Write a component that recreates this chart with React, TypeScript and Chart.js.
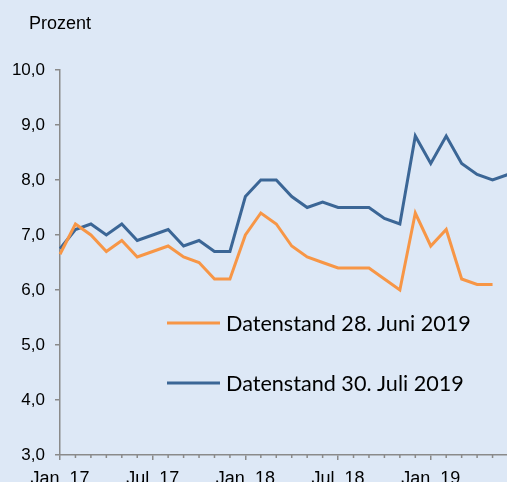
import React, { useEffect, useRef } from 'react';
import { Chart, registerables } from 'chart.js';
Chart.register(...registerables);

const months = [
  'Jan. 17', 'Feb. 17', 'Mär. 17', 'Apr. 17', 'Mai. 17', 'Jun. 17',
  'Jul. 17', 'Aug. 17', 'Sep. 17', 'Okt. 17', 'Nov. 17', 'Dez. 17',
  'Jan. 18', 'Feb. 18', 'Mär. 18', 'Apr. 18', 'Mai. 18', 'Jun. 18',
  'Jul. 18', 'Aug. 18', 'Sep. 18', 'Okt. 18', 'Nov. 18', 'Dez. 18',
  'Jan. 19', 'Feb. 19', 'Mär. 19', 'Apr. 19', 'Mai. 19', 'Jun. 19',
];

const juniValues = [
  6.65, 7.2, 7.0, 6.7, 6.9, 6.6, 6.7, 6.8, 6.6, 6.5, 6.2, 6.2,
  7.0, 7.4, 7.2, 6.8, 6.6, 6.5, 6.4, 6.4, 6.4, 6.2, 6.0, 7.4,
  6.8, 7.1, 6.2, 6.1, 6.1,
];

const juliValues = [
  6.75, 7.1, 7.2, 7.0, 7.2, 6.9, 7.0, 7.1, 6.8, 6.9, 6.7, 6.7,
  7.7, 8.0, 8.0, 7.7, 7.5, 7.6, 7.5, 7.5, 7.5, 7.3, 7.2, 8.8,
  8.3, 8.8, 8.3, 8.1, 8.0, 8.1,
];

const seriesLabels = ['Datenstand 28. Juni 2019', 'Datenstand 30. Juli 2019'];
const unitLabel = 'Prozent';
const yMin = 3;
const yMax = 10;

const BG = '#dde8f6';
const AXIS = '#8a8a8a';
const ORANGE = '#f79646';
const BLUE = '#3b6696';

export default function App() {
  const ref = useRef<HTMLCanvasElement>(null);

  useEffect(() => {
    const canvas = ref.current;
    if (!canvas) return;

    const bgPlugin = {
      id: 'bg',
      beforeDraw(chart: any) {
        const ctx = chart.ctx;
        ctx.save();
        ctx.fillStyle = BG;
        ctx.fillRect(0, 0, chart.width, chart.height);
        ctx.restore();
      },
    };

    const overlayPlugin = {
      id: 'overlay',
      afterDraw(chart: any) {
        const ctx = chart.ctx;
        const xs = chart.scales.x;
        const area = chart.chartArea;
        ctx.save();
        // unit label
        ctx.fillStyle = '#000';
        ctx.font = '18px "Liberation Sans", Arial, sans-serif';
        ctx.textAlign = 'left';
        ctx.textBaseline = 'alphabetic';
        ctx.fillText(unitLabel, 29, 29);

        // minor monthly ticks
        ctx.strokeStyle = AXIS;
        ctx.lineWidth = 1.5;
        for (let i = 0; i < months.length; i++) {
          if (i % 6 === 0) continue;
          const x = xs.getPixelForTick(i);
          ctx.beginPath();
          ctx.moveTo(x, area.bottom);
          ctx.lineTo(x, area.bottom + 3);
          ctx.stroke();
        }

        // legend inside plot
        const rows = [323, 383];
        chart.data.datasets.forEach((ds: any, k: number) => {
          const y = rows[k];
          ctx.strokeStyle = ds.borderColor;
          ctx.lineWidth = 3;
          ctx.beginPath();
          ctx.moveTo(167, y);
          ctx.lineTo(220, y);
          ctx.stroke();
          ctx.fillStyle = '#000';
          ctx.font = '21.6px Lato, "Open Sans", sans-serif';
          ctx.textBaseline = 'alphabetic';
          ctx.fillText(ds.label, 226, y + 7.5);
        });
        ctx.restore();
      },
    };

    const chart = new Chart(canvas, {
      type: 'line',
      data: {
        labels: months,
        datasets: [
          {
            label: seriesLabels[0],
            data: juniValues,
            borderColor: ORANGE,
            backgroundColor: ORANGE,
            borderWidth: 3,
            pointRadius: 0,
            tension: 0,
            fill: false,
          },
          {
            label: seriesLabels[1],
            data: juliValues,
            borderColor: BLUE,
            backgroundColor: BLUE,
            borderWidth: 3,
            pointRadius: 0,
            tension: 0,
            fill: false,
          },
        ],
      },
      options: {
        responsive: false,
        animation: false,
        devicePixelRatio: 1,
        layout: { padding: { top: 70, left: 0, right: 12, bottom: 0 } },
        plugins: {
          legend: { display: false },
          tooltip: { enabled: false },
          title: { display: false },
        },
        scales: {
          x: {
            type: 'category',
            offset: false,
            grid: {
              display: true,
              drawOnChartArea: false,
              drawTicks: true,
              tickLength: 5,
              lineWidth: 1.5,
              color: (c: any) => (c.index % 6 === 0 ? AXIS : 'rgba(0,0,0,0)'),
            },
            border: { display: true, color: AXIS, width: 1.5 },
            ticks: {
              autoSkip: false,
              maxRotation: 0,
              minRotation: 0,
              padding: 8,
              color: '#000',
              font: { family: '"Liberation Sans", Arial, sans-serif', size: 18 },
              callback: (_v: any, i: number) => (i % 6 === 0 ? months[i] : ''),
            },
            afterFit: (s: any) => {
              s.height = 27;
            },
          },
          y: {
            min: yMin,
            max: yMax,
            grid: {
              display: true,
              drawOnChartArea: false,
              drawTicks: true,
              tickLength: 5,
              lineWidth: 1.5,
              color: AXIS,
            },
            border: { display: true, color: AXIS, width: 1.5 },
            ticks: {
              stepSize: 1,
              padding: 10,
              color: '#000',
              font: { family: '"Liberation Sans", Arial, sans-serif', size: 17 },
              callback: (v: any) => Number(v).toFixed(1).replace('.', ','),
            },
            afterFit: (s: any) => {
              s.width = 60;
            },
          },
        },
      },
      plugins: [bgPlugin, overlayPlugin],
    } as any);

    return () => chart.destroy();
  }, []);

  return (
    <div
      style={{
        position: 'fixed',
        left: 0,
        top: 0,
        width: 507,
        height: 482,
        overflow: 'hidden',
        background: BG,
      }}
    >
      <canvas ref={ref} width={520} height={482} style={{ display: 'block', width: 520, height: 482 }} />
    </div>
  );
}
